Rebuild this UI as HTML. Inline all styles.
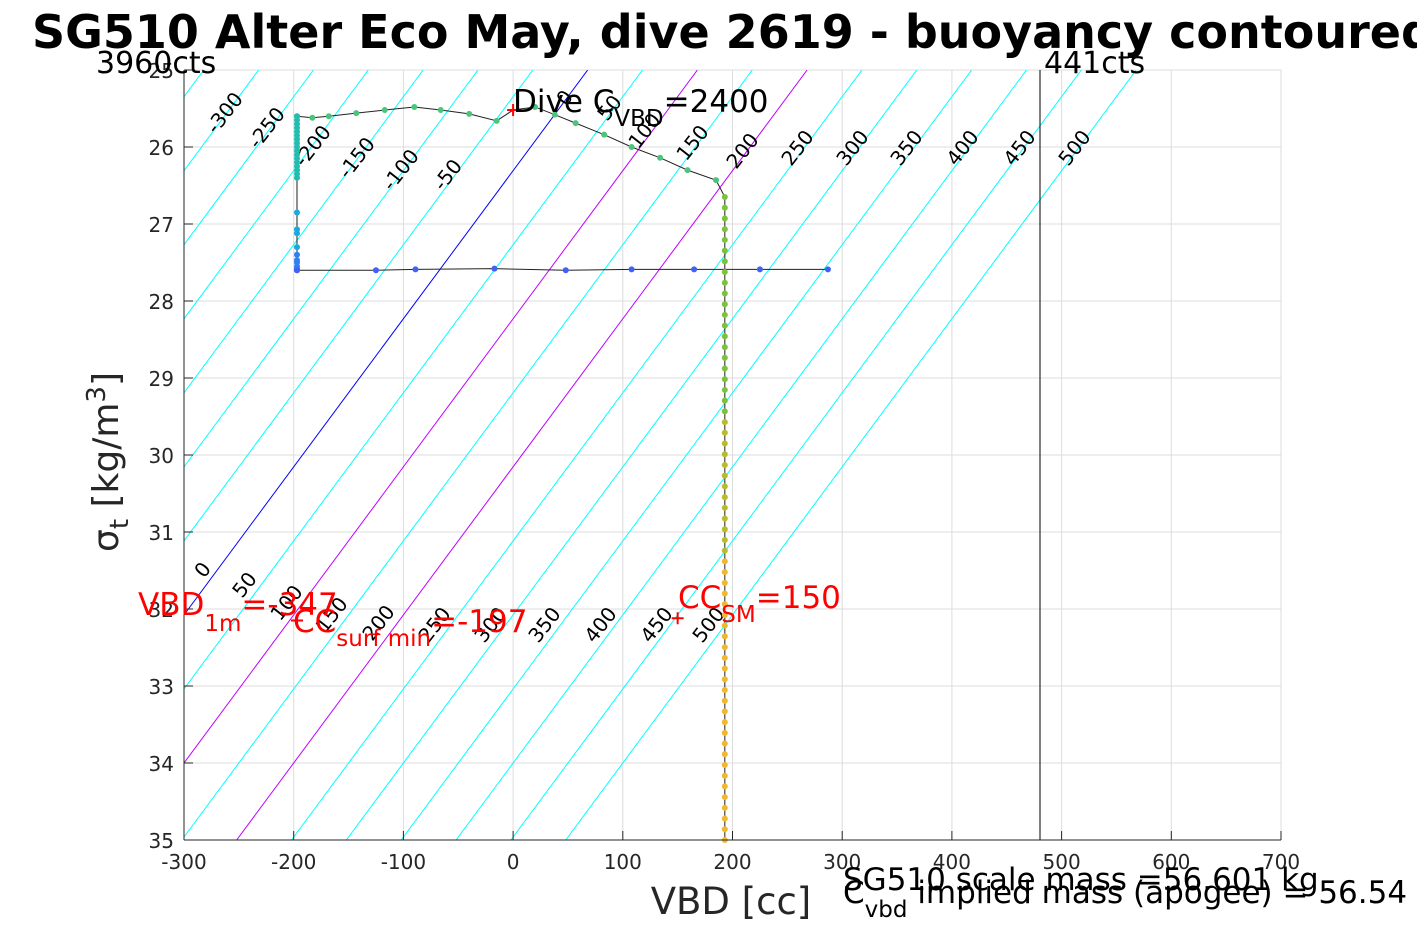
<!DOCTYPE html>
<html><head><meta charset="utf-8"><style>
body{margin:0;background:#fff;width:1417px;height:945px;overflow:hidden}
svg{font-family:"DejaVu Sans","Liberation Sans",sans-serif}
</style></head><body>
<svg id="chart" width="1417" height="945" xmlns="http://www.w3.org/2000/svg">
<defs><clipPath id="plotclip"><rect x="184" y="70" width="1097" height="770"/></clipPath></defs>
<g id="grid"></g>
<g id="contours" clip-path="url(#plotclip)"></g>
<g id="clabels"></g>
<g id="track"></g>
<g id="axes"></g>
<text x="32" y="48" font-size="46" font-weight="bold">SG510 Alter Eco May, dive 2619 - buoyancy contoured</text>
<text x="96" y="73" font-size="30">3960cts</text>
<text x="1044" y="73" font-size="30">441cts</text>
<text x="513" y="112" font-size="31">Dive C<tspan font-size="23" dy="14">VBD</tspan><tspan dy="-14">=2400</tspan></text>
<text x="138" y="615" font-size="31" fill="red">VBD<tspan font-size="23" dy="16">1m</tspan><tspan dy="-16">=-347</tspan></text>
<text x="293" y="632" font-size="31" fill="red">CC<tspan font-size="23" dy="14">surf min</tspan><tspan dy="-14">=-197</tspan></text>
<text x="678" y="608" font-size="31" fill="red">CC<tspan font-size="23" dy="14">SM</tspan><tspan dy="-14">=150</tspan></text>
<text x="731" y="914" font-size="37" text-anchor="middle" fill="#262626">VBD [cc]</text>
<text transform="translate(118,462) rotate(-90)" font-size="36" text-anchor="middle" fill="#262626">σ<tspan font-size="26" dy="10">t</tspan><tspan dy="-10"> [kg/m</tspan><tspan font-size="26" dy="-13">3</tspan><tspan dy="13">]</tspan></text>
<text x="843" y="890" font-size="31">SG510 scale mass =56.601 kg</text>
<text x="843" y="903" font-size="31">C<tspan font-size="23" dy="14">vbd</tspan><tspan dy="-14"> implied mass (apogee) = 56.54</tspan></text>
</svg>
<script>
const xTicks=[-300,-200,-100,0,100,200,300,400,500,600,700];
const yTicks=[25,26,27,28,29,30,31,32,33,34,35];
const contourLevels=[-400,-350,-300,-250,-200,-150,-100,-50,0,50,100,150,200,250,300,350,400,450,500];
const topLabels=[-300,-250,-200,-150,-100,-50,0,50,100,150,200,250,300,350,400,450,500];
const topLabelX=[230,272,318,362,406,453,570,615,650,698,748,803,858,912,968,1025,1080];
const topLabelY=[110,125,143,155,167,172,95,105,128,140,148,145,145,145,145,145,145];
const botLabels=[0,50,100,150,200,250,300,350,400,450,500];
const botLabelX=[208,250,292,337,384,440,496,550,606,662,714];
const botLabelY=[567,582,600,612,620,622,622,622,622,622,622];
const topPathVBD=[-197,-183,-168,-143,-117,-90,-66,-40,-15,0,20,38,57,83,108,134,159,185];
const topPathSig=[25.6,25.62,25.6,25.56,25.52,25.48,25.52,25.57,25.66,25.52,25.48,25.58,25.69,25.84,26.0,26.14,26.3,26.43];
const leftSig=[25.6,25.65,25.7,25.75,25.8,25.85,25.9,25.95,26.0,26.05,26.1,26.15,26.2,26.25,26.3,26.35,26.4,26.85,27.07,27.12,27.3,27.4,27.47,27.5,27.55,27.58,27.6];
const bottomVBD=[-197,-125,-89,-17,48,108,165,225,287];
const bottomSig=[27.6,27.6,27.59,27.58,27.6,27.59,27.59,27.59,27.59];
const descentVBD=193;
const descentSigStart=26.65, descentSigEnd=35.0, descentCount=61;
const contourTopVBD=68, contourSlope=52;

const X=v=>184+(v+300)*1.097;
const Y=s=>70+(s-25)*77;
const NS="http://www.w3.org/2000/svg";
function mk(tag,parent,attrs){const e=document.createElementNS(NS,tag);for(const k in attrs)e.setAttribute(k,attrs[k]);parent.appendChild(e);return e;}
const grid=document.getElementById('grid'),axes=document.getElementById('axes');
xTicks.forEach(t=>{
  const g=mk('line',grid,{x1:X(t),x2:X(t),y1:70,y2:840,stroke:'#dcdcdc','stroke-width':1});
  
  
  const l=mk('text',axes,{x:X(t),y:869,'font-size':20,'text-anchor':'middle',fill:'#262626'});
  l.textContent=t;
  
  
  mk('line',axes,{x1:X(t),x2:X(t),y1:840,y2:831,stroke:'#262626'});
});
yTicks.forEach(t=>{
  const g=mk('line',grid,{x1:184,x2:1281,y1:Y(t),y2:Y(t),stroke:'#dcdcdc','stroke-width':1});
  
  
  const l=mk('text',axes,{x:174,y:Y(t)+8,'font-size':20,'text-anchor':'end',fill:'#262626'});
  l.textContent=t;
  
  
  mk('line',axes,{x1:184,x2:193,y1:Y(t),y2:Y(t),stroke:'#262626'});
});
mk('line',axes,{x1:184,x2:1281,y1:840,y2:840,stroke:'#262626'});
mk('line',axes,{x1:184,x2:184,y1:70,y2:840,stroke:'#262626'});
const cg=document.getElementById('contours');
contourLevels.forEach(k=>{
  const v0=contourTopVBD+k, v1=v0-contourSlope*10;
  const col=k===0?'#0000ff':(k===100||k===200)?'#bf00ff':'#00ffff';
  const ln=mk('line',cg,{x1:X(v0),y1:Y(25),x2:X(v1),y2:Y(35),stroke:col,'stroke-width':1});
  
  
});
const vl=mk('line',cg,{x1:1040,x2:1040,y1:70,y2:840,stroke:'#000','stroke-width':1});


const lg=document.getElementById('clabels');
function clab(txt,x,y){const t=mk('text',lg,{x:x,y:y,'font-size':20,'text-anchor':'middle',transform:`rotate(-52 ${x} ${y})`,fill:'#000'});t.textContent=txt;
  
  }
topLabels.forEach((v,i)=>clab(v,topLabelX[i],topLabelY[i]+7));
botLabels.forEach((v,i)=>clab(v,botLabelX[i],botLabelY[i]+7));
const tr=document.getElementById('track');
function poly(pts){const p=mk('polyline',tr,{points:pts.map(q=>q.join(',')).join(' '),fill:'none',stroke:'#222','stroke-width':1});
  
  }
function dot(x,y,c){const d=mk('circle',tr,{cx:x,cy:y,r:3,fill:c});
  
  }
const descSig=[];for(let i=0;i<descentCount;i++)descSig.push(descentSigStart+(descentSigEnd-descentSigStart)*i/(descentCount-1));
poly(topPathVBD.map((v,i)=>[X(v),Y(topPathSig[i])]).concat([[X(descentVBD),Y(descentSigStart)],[X(descentVBD),Y(35)]]));
poly(leftSig.map(s=>[X(-197),Y(s)]));
poly(bottomVBD.map((v,i)=>[X(v),Y(bottomSig[i])]));
topPathVBD.forEach((v,i)=>{if(v!==0)dot(X(v),Y(topPathSig[i]),'#4cc47c');});
leftSig.forEach(s=>dot(X(-197),Y(s),s<26.5?'#22bdb0':(s<27.4?'#1aa8e0':'#3080f0')));
bottomVBD.forEach((v,i)=>dot(X(v),Y(bottomSig[i]),'#4060f8'));
descSig.forEach(s=>{const c=s<29.5?'#7cc23c':(s<31.3?'#b8bc2a':'#f0b830');dot(X(descentVBD),Y(s),c);});
function plus(x,y){const p=mk('path',tr,{d:`M${x-6} ${y}H${x+6}M${x} ${y-6}V${y+6}`,stroke:'red','stroke-width':2});
  
  }
plus(X(0),Y(25.52));plus(X(-197),Y(32.15));plus(X(150),Y(32.12));
</script>
</body></html>
